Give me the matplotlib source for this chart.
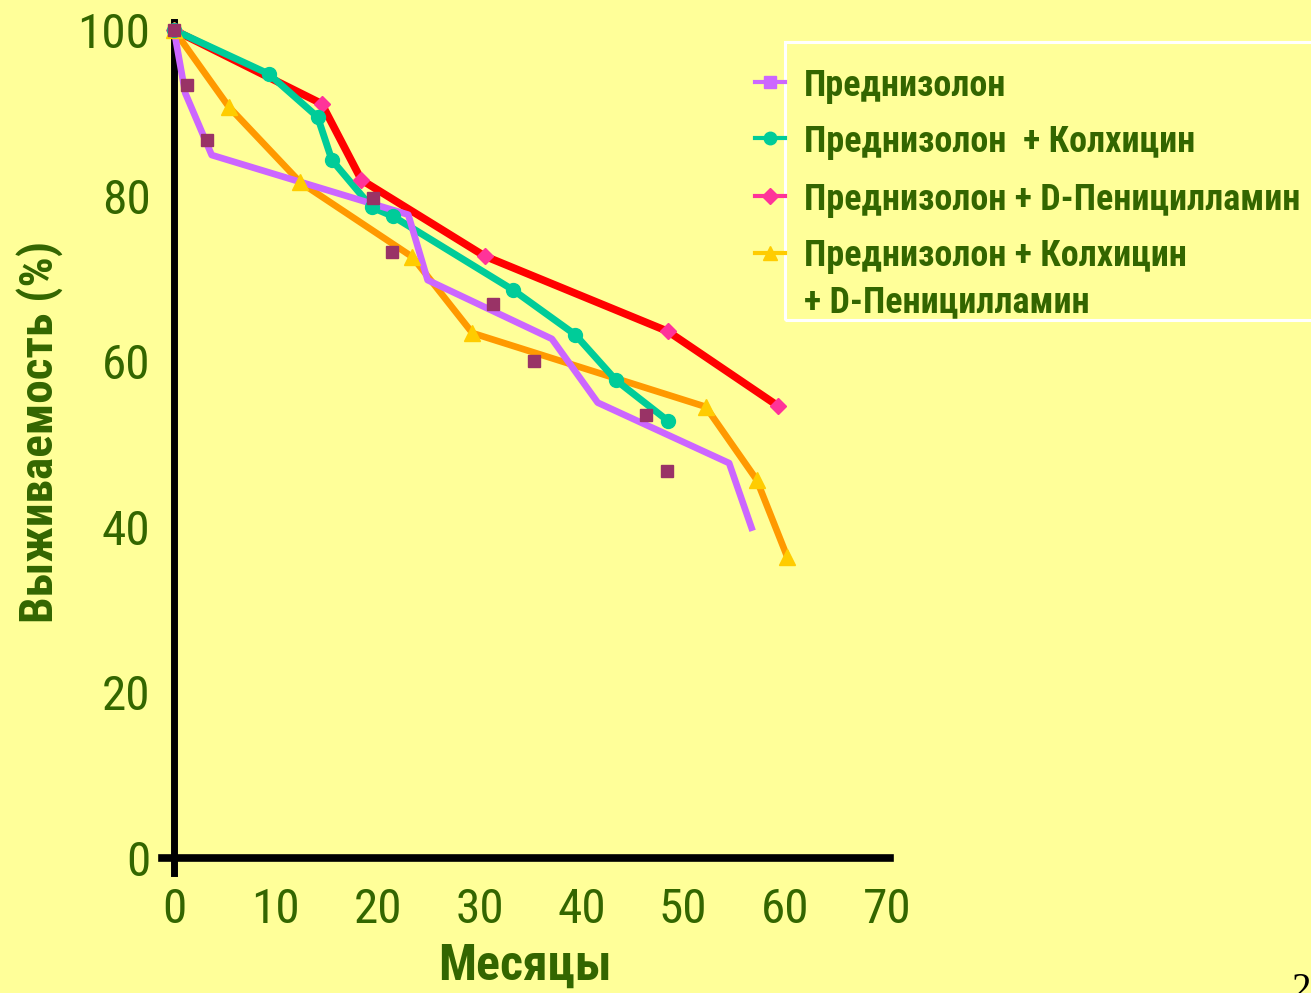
import matplotlib
matplotlib.use('Agg')
import matplotlib.pyplot as plt
from matplotlib import font_manager
from matplotlib.ft2font import FT2Font
from matplotlib.lines import Line2D
from matplotlib.patches import Rectangle

# ---- data ----
months_pred = [0, 1.1, 3.7, 23.0, 24.9, 37.1, 41.6, 54.5, 56.7]
surv_pred = [100, 92.4, 84.9, 77.7, 69.8, 62.7, 55.0, 47.7, 39.9]

months_pred_pts = [0, 1.3, 3.2, 19.5, 21.4, 31.3, 35.3, 46.3, 48.4]
surv_pred_pts = [100, 93.4, 86.7, 79.7, 73.2, 66.9, 60.0, 53.5, 46.7]

months_colch = [0, 9.3, 14.1, 15.5, 19.4, 21.5, 33.3, 39.4, 43.4, 48.5]
surv_colch = [100, 94.7, 89.5, 84.3, 78.6, 77.5, 68.6, 63.2, 57.7, 52.8]

months_pen = [0, 14.5, 18.4, 30.5, 48.5, 59.3]
surv_pen = [100, 91.1, 81.9, 72.7, 63.6, 54.6]

months_all = [0, 5.4, 12.4, 23.4, 29.3, 52.2, 57.2, 60.2]
surv_all = [100, 90.7, 81.6, 72.6, 63.4, 54.5, 45.7, 36.4]

x_ticks = [0, 10, 20, 30, 40, 50, 60, 70]
y_ticks = [0, 20, 40, 60, 80, 100]

labels = ['Преднизолон',
          'Преднизолон  + Колхицин',
          'Преднизолон + D-Пеницилламин',
          'Преднизолон + Колхицин\n+ D-Пеницилламин']

# ---- fonts: pick a narrow family with Cyrillic, regular + bold ----
CYR = 'ПредизлКхцДМсяыВжвамть'


def has_cyr(path):
    try:
        cm = FT2Font(path).get_charmap()
        return all(ord(c) in cm for c in CYR)
    except Exception:
        return False


cands = ['Liberation Sans Narrow', 'Arial Narrow', 'Roboto Condensed', 'Archivo Narrow',
         'PT Sans Narrow', 'Fira Sans Condensed', 'IBM Plex Sans Condensed',
         'Open Sans Condensed', 'Ubuntu Condensed', 'Asap Condensed', 'Barlow Condensed']
narrow = 'Liberation Sans'
for c in cands:
    ents = [f for f in font_manager.fontManager.ttflist if f.name == c and f.style == 'normal']
    reg = any(f.weight in (400, 'normal', 'regular') and has_cyr(f.fname) for f in ents)
    bold = any(isinstance(f.weight, int) and f.weight >= 600 and has_cyr(f.fname) for f in ents) or \
        any(f.weight == 'bold' and has_cyr(f.fname) for f in ents)
    if reg and bold:
        narrow = c
        break
FAM = [narrow, 'Liberation Sans', 'DejaVu Sans']

BG = '#FFFF99'
TXT = '#336600'
VIOLET = '#CC66FF'
MAROON = '#993366'
TEAL = '#00CC99'
RED = '#FF0000'
PINK = '#FF3399'
ORANGE = '#FF9900'
YELLOW = '#FFCC00'

fig = plt.figure(figsize=(13.11, 9.93), dpi=100, facecolor=BG)
ax = fig.add_axes([0.1234, 0.1209, 0.5555, 0.8572])
ax.set_facecolor('none')

ax.plot(months_pen, surv_pen, color=RED, lw=5.5, zorder=2)
ax.plot(months_all, surv_all, color=ORANGE, lw=4.8, zorder=3)
ax.plot(months_colch, surv_colch, color=TEAL, lw=5.0, zorder=4)
ax.plot(months_pred, surv_pred, color=VIOLET, lw=4.8, zorder=5)

ax.plot(months_pen, surv_pen, ls='none', marker='D', ms=8.5, color=PINK, zorder=6)
ax.plot(months_all, surv_all, ls='none', marker='^', ms=11, color=YELLOW, zorder=6)
ax.plot(months_colch, surv_colch, ls='none', marker='o', ms=10, color=TEAL, zorder=6)
ax.plot(months_pred_pts, surv_pred_pts, ls='none', marker='s', ms=9, color=MAROON, zorder=7)

ax.set_xlim(-1.2, 70.3)
ax.set_ylim(-1.8, 101)
for s in ['top', 'right']:
    ax.spines[s].set_visible(False)
ax.spines['left'].set_position(('data', 0))
ax.spines['bottom'].set_position(('data', 0))
ax.spines['left'].set_linewidth(5)
ax.spines['bottom'].set_linewidth(5.5)
ax.spines['left'].set_color('black')
ax.spines['bottom'].set_color('black')

ax.set_xticks(x_ticks)
ax.set_yticks(y_ticks)
ax.tick_params(axis='both', length=0)
ax.tick_params(axis='x', pad=21)
ax.tick_params(axis='y', pad=17)
for lab in ax.get_xticklabels() + ax.get_yticklabels():
    lab.set_family(FAM)
    lab.set_fontsize(35.5)
    lab.set_color(TXT)

fig.text(525 / 1311, 1 - 966 / 993, 'Месяцы', family=FAM, fontweight='bold',
         fontsize=36, color=TXT, ha='center', va='center')
fig.text(40 / 1311, 1 - 432 / 993, 'Выживаемость (%)', family=FAM, fontweight='bold',
         fontsize=34, color=TXT, ha='center', va='center', rotation=90)

# legend (entries drawn at fixed rows; handles sit left of the white frame)
handles = [
    (VIOLET, VIOLET, 's', 9),
    (TEAL, TEAL, 'o', 9),
    (PINK, PINK, 'D', 8),
    (YELLOW, YELLOW, '^', 10),
]
handle_y = [82, 138, 196, 253]
text_y = [82, 138, 196, 270]
for (lc, mc, mk, ms), lab, hy, ty in zip(handles, labels, handle_y, text_y):
    hf = 1 - hy / 993
    fig.add_artist(Line2D([755 / 1311, 785 / 1311], [hf, hf], transform=fig.transFigure,
                          color=lc, lw=3))
    fig.add_artist(Line2D([770 / 1311], [hf], transform=fig.transFigure, ls='none',
                          marker=mk, ms=ms, color=mc))
    fig.text(804 / 1311, 1 - ty / 993, lab, family=FAM, fontweight='bold', fontsize=26,
             color=TXT, ha='left', va='center_baseline', linespacing=1.37)
fig.add_artist(Rectangle((785 / 1311, 1 - 320 / 993), (1311 - 783) / 1311, (320 - 42) / 993,
                         transform=fig.transFigure, facecolor='none',
                         edgecolor='white', lw=2.2))

fig.text(1291 / 1311, 1 - 972 / 993, '2', family='Liberation Serif', fontsize=28,
         color='black', ha='left', va='top')

fig.savefig('out.png', dpi=100, facecolor=BG)
